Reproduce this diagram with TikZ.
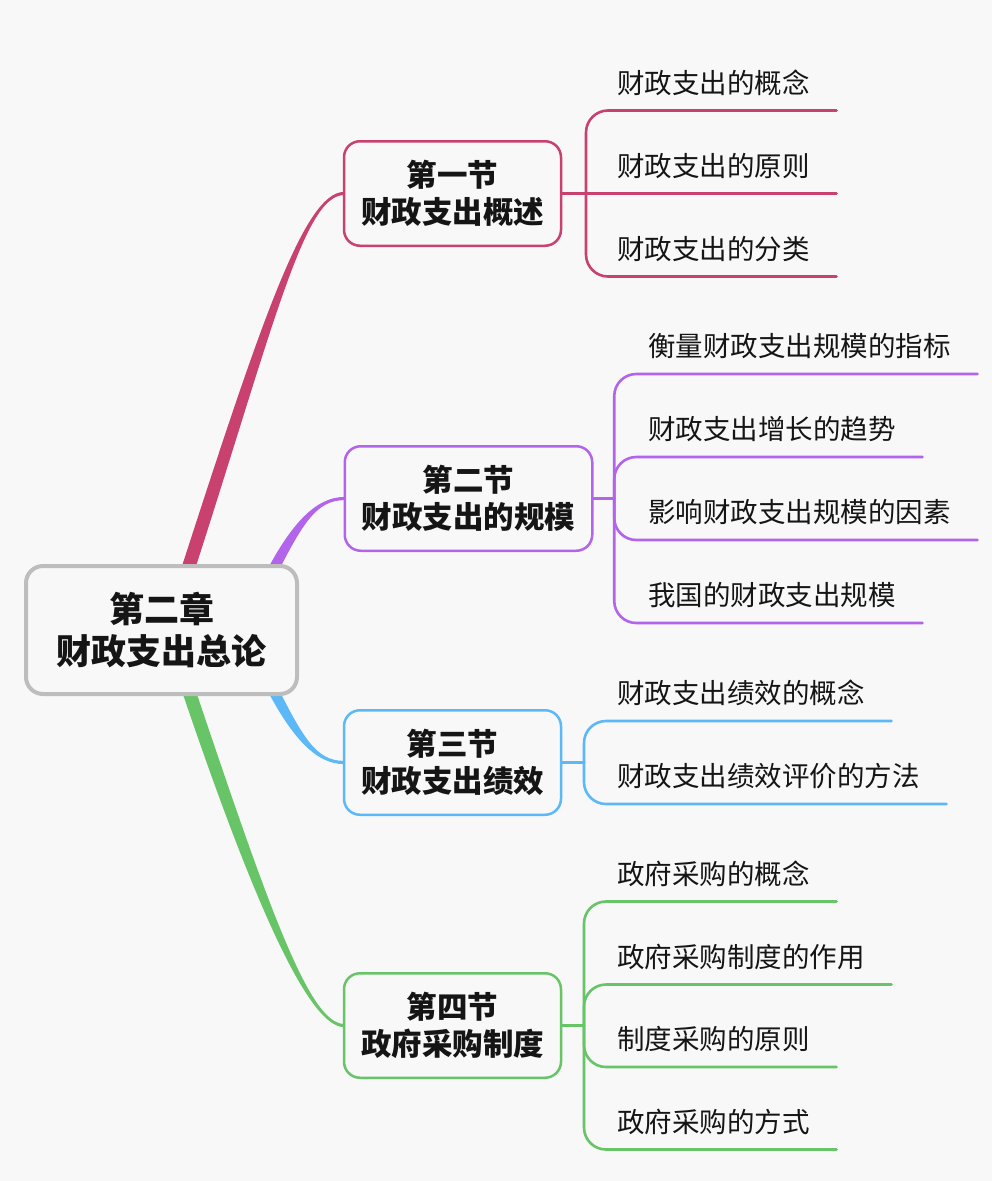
\documentclass[tikz,border=0pt]{standalone}
\usepackage{fontspec}
\setmainfont{Noto Sans CJK SC}
\usetikzlibrary{calc}
\definecolor{bg}{HTML}{F8F8F8}
\definecolor{cred}{HTML}{C9416E}
\definecolor{cpur}{HTML}{B264EA}
\definecolor{cblu}{HTML}{5CB8F6}
\definecolor{cgrn}{HTML}{67C467}
\definecolor{cgry}{HTML}{BDBDBD}
\definecolor{ink}{HTML}{151515}
\pgfdeclarelayer{bglayer}
\pgfdeclarelayer{edges}
\pgfsetlayers{bglayer,edges,main}
\newcommand\leaftext[1]{\hspace*{10pt}#1\hspace*{27pt}}
\tikzset{
  rootbox/.style={draw=cgry, line width=4pt, rounded corners=17pt, fill=bg,
    minimum width=271pt, minimum height=128pt, inner sep=0pt, outer sep=0pt,
    align=center, text=ink, font=\fontsize{35}{42}\selectfont\bfseries},
  secbox/.style={line width=2.5pt, rounded corners=16pt, fill=bg,
    minimum height=104.5pt, inner xsep=17pt, inner ysep=0pt, outer sep=0pt,
    align=center, text=ink, font=\fontsize{30.5}{37}\selectfont\bfseries},
  leafnode/.style={inner sep=0pt, outer sep=0pt, text depth=17.5pt,
    anchor=south west, text=ink, font=\fontsize{27.5}{30}\selectfont},
  link/.style={line width=2.6pt, line cap=round},
  roundbend/.style={rounded corners=22pt},
}
\begin{document}
\begin{tikzpicture}[x=1pt,y=-1pt]
\begin{pgfonlayer}{bglayer}
\fill[bg] (0,0) rectangle (992,1181);
\end{pgfonlayer}
\useasboundingbox (0,0) rectangle (992,1181);

% root and sections
\node[rootbox] (root) at (161.5,630) {第二章\\财政支出总论};
\node[secbox, draw=cred] (s1) at (452.5,193.5) {第一节\\财政支出概述};
\node[secbox, draw=cpur] (s2) at (468.5,498.5) {第二节\\财政支出的规模};
\node[secbox, draw=cblu] (s3) at (452.5,762.5) {第三节\\财政支出绩效};
\node[secbox, draw=cgrn] (s4) at (452.5,1025.5) {第四节\\政府采购制度};

% leaves section 1
\node[leafnode] (l11) at (607,110.5) {\leaftext{财政支出的概念}};
\node[leafnode] (l12) at (607,193.5) {\leaftext{财政支出的原则}};
\node[leafnode] (l13) at (607,276.5) {\leaftext{财政支出的分类}};
% leaves section 2
\node[leafnode] (l21) at (638,374) {\leaftext{衡量财政支出规模的指标}};
\node[leafnode] (l22) at (638,457) {\leaftext{财政支出增长的趋势}};
\node[leafnode] (l23) at (638,540) {\leaftext{影响财政支出规模的因素}};
\node[leafnode] (l24) at (638,623) {\leaftext{我国的财政支出规模}};
% leaves section 3
\node[leafnode] (l31) at (607,721) {\leaftext{财政支出绩效的概念}};
\node[leafnode] (l32) at (607,804) {\leaftext{财政支出绩效评价的方法}};
% leaves section 4
\node[leafnode] (l41) at (607,901.5) {\leaftext{政府采购的概念}};
\node[leafnode] (l42) at (607,984.5) {\leaftext{政府采购制度的作用}};
\node[leafnode] (l43) at (607,1067) {\leaftext{制度采购的原则}};
\node[leafnode] (l44) at (607,1149.5) {\leaftext{政府采购的方式}};

\begin{pgfonlayer}{edges}
% root connectors (tapered)
\fill[cred] ($(root.north)+(16,14)$) .. controls +(82.5,-255) and +(-40,0) .. ($(s1.west)+(0,-1.6)$)
  -- ($(s1.west)+(0,1.6)$) .. controls +(-40,0) and +(82.5,-255) .. ($(root.north)+(30,14)$) -- cycle;
\fill[cpur] ($(root.north)+(100.5,14)$) .. controls +(29,-58) and +(-28,0) .. ($(s2.west)+(0,-1.6)$)
  -- ($(s2.west)+(0,1.6)$) .. controls +(-28,0) and +(29,-58) .. ($(root.north)+(112.5,14)$) -- cycle;
\fill[cblu] ($(root.south)+(100.5,-14)$) .. controls +(29,58) and +(-28,0) .. ($(s3.west)+(0,1.6)$)
  -- ($(s3.west)+(0,-1.6)$) .. controls +(-28,0) and +(29,58) .. ($(root.south)+(112.5,-14)$) -- cycle;
\fill[cgrn] ($(root.south)+(17,-13)$) .. controls +(75.4,224) and +(-35,0) .. ($(s4.west)+(0,1.6)$)
  -- ($(s4.west)+(0,-1.6)$) .. controls +(-35,0) and +(75.4,224) .. ($(root.south)+(31,-13)$) -- cycle;

% section 1 branches
\coordinate (b1) at ($(s1.east)+(25,0)$);
\draw[link, cred] (s1.east) -- (b1);
\draw[link, cred] (b1) [roundbend] |- (l11.south east);
\draw[link, cred] (b1) -- (l12.south east);
\draw[link, cred] (b1) [roundbend] |- (l13.south east);
% section 2 branches
\coordinate (b2) at ($(s2.east)+(22,0)$);
\draw[link, cpur] (s2.east) -- (b2);
\draw[link, cpur] (b2) [roundbend] |- (l21.south east);
\draw[link, cpur] (b2) [roundbend] |- (l22.south east);
\draw[link, cpur] (b2) [roundbend] |- (l23.south east);
\draw[link, cpur] (b2) [roundbend] |- (l24.south east);
% section 3 branches
\coordinate (b3) at ($(s3.east)+(23,0)$);
\draw[link, cblu] (s3.east) -- (b3);
\draw[link, cblu] (b3) [roundbend] |- (l31.south east);
\draw[link, cblu] (b3) [roundbend] |- (l32.south east);
% section 4 branches
\coordinate (b4) at ($(s4.east)+(23,0)$);
\draw[link, cgrn] (s4.east) -- (b4);
\draw[link, cgrn] (b4) [roundbend] |- (l41.south east);
\draw[link, cgrn] (b4) [roundbend] |- (l42.south east);
\draw[link, cgrn] (b4) [roundbend] |- (l43.south east);
\draw[link, cgrn] (b4) [roundbend] |- (l44.south east);
\end{pgfonlayer}
\end{tikzpicture}
\end{document}
